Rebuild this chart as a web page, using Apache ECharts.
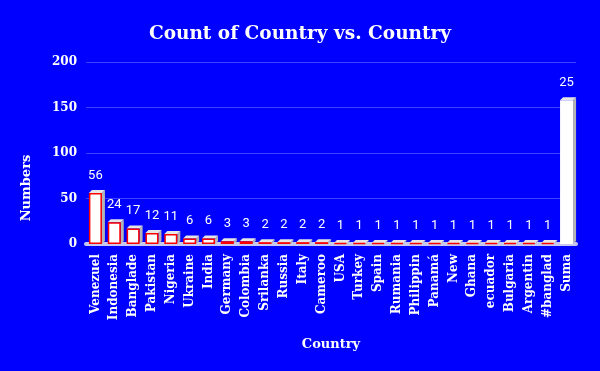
<!DOCTYPE html>
<html><head><meta charset="utf-8">
<script src="https://cdn.jsdelivr.net/npm/echarts@6/dist/echarts.min.js"></script>
<style>html,body{margin:0;padding:0;background:#0000ff}#c{width:600px;height:371px}</style>
</head><body><div id="c"></div>
<script>
var categories = ["Venezuel","Indonesia","Banglade","Pakistan","Nigeria","Ukraine","India","Germany","Colombia","Srilanka","Russia","Italy","Cameroo","USA","Turkey","Spain","Rumania","Philippin","Panamá","New","Ghana","ecuador","Bulgaria","Argentin","#banglad","Suma"];
var values = [56,24,17,12,11,6,6,3,3,2,2,2,2,1,1,1,1,1,1,1,1,1,1,1,1,158];
var valueLabels = ["56","24","17","12","11","6","6","3","3","2","2","2","2","1","1","1","1","1","1","1","1","1","1","1","1","25"];
var yTicks = [0,50,100,150,200];

var serif = "DejaVu Serif";
var BW = 13, D = 3;
var chart = echarts.init(document.getElementById('c'));
chart.setOption({
  backgroundColor: '#0000ff',
  animation: false,
  title: {text: 'Count of Country vs. Country', left: 'center', top: 20,
    textStyle: {color: '#fff', fontFamily: serif, fontWeight: 'bold', fontSize: 18.5}},
  grid: {left: 86, right: 24, top: 62, bottom: 127},
  xAxis: {type: 'category', data: categories,
    axisLine: {show: true, lineStyle: {color: '#c8c8ee', width: 4}},
    axisTick: {show: false},
    axisLabel: {rotate: 90, color: '#fff', fontFamily: serif, fontWeight: 'bold', fontSize: 12, margin: 10, interval: 0}},
  yAxis: {type: 'value', min: yTicks[0], max: yTicks[yTicks.length-1], interval: 50,
    axisLine: {show: false}, axisTick: {show: false},
    splitLine: {lineStyle: {color: '#4040ff', width: 1}},
    axisLabel: {color: '#fff', fontFamily: serif, fontWeight: 'bold', fontSize: 12, margin: 9}},
  graphic: [
    {type: 'text', x: 27, y: 188, rotation: Math.PI/2,
      style: {text: 'Numbers', fill: '#fff', font: 'bold 13px "DejaVu Serif"', align: 'center', verticalAlign: 'middle'}},
    {type: 'text', x: 331, y: 345,
      style: {text: 'Country', fill: '#fff', font: 'bold 13px "DejaVu Serif"', align: 'center', verticalAlign: 'middle'}}
  ],
  series: [{
    type: 'custom', z: 1,
    renderItem: function(params, api){
      var top = api.coord([api.value(0), api.value(1)]);
      var base = api.coord([api.value(0), 0]);
      var x0 = top[0] - BW/2, x1 = top[0] + BW/2;
      return {type: 'group', children: [
        {type: 'polygon', shape: {points: [[x1, top[1]], [x1+D, top[1]-D], [x1+D, base[1]-D], [x1, base[1]]]},
          style: {fill: '#b4b4b4'}},
        {type: 'polygon', shape: {points: [[x0, top[1]], [x0+D, top[1]-D], [x1+D, top[1]-D], [x1, top[1]]]},
          style: {fill: '#e6e6e6'}}
      ]};
    },
    data: values.map(function(v, i){ return [i, v]; })
  }, {
    type: 'bar', barWidth: BW, z: 2,
    data: values.map(function(v, i){
      return {value: v, itemStyle: {borderColor: i === values.length-1 ? '#fff' : '#ff0000'}};
    }),
    itemStyle: {color: '#fff', borderColor: '#ff0000', borderWidth: 1.5},
    label: {show: true, position: 'top', distance: 11, color: '#fff', fontFamily: 'Roboto', fontSize: 13,
      formatter: function(p){ return valueLabels[p.dataIndex]; }}
  }]
});
</script></body></html>
